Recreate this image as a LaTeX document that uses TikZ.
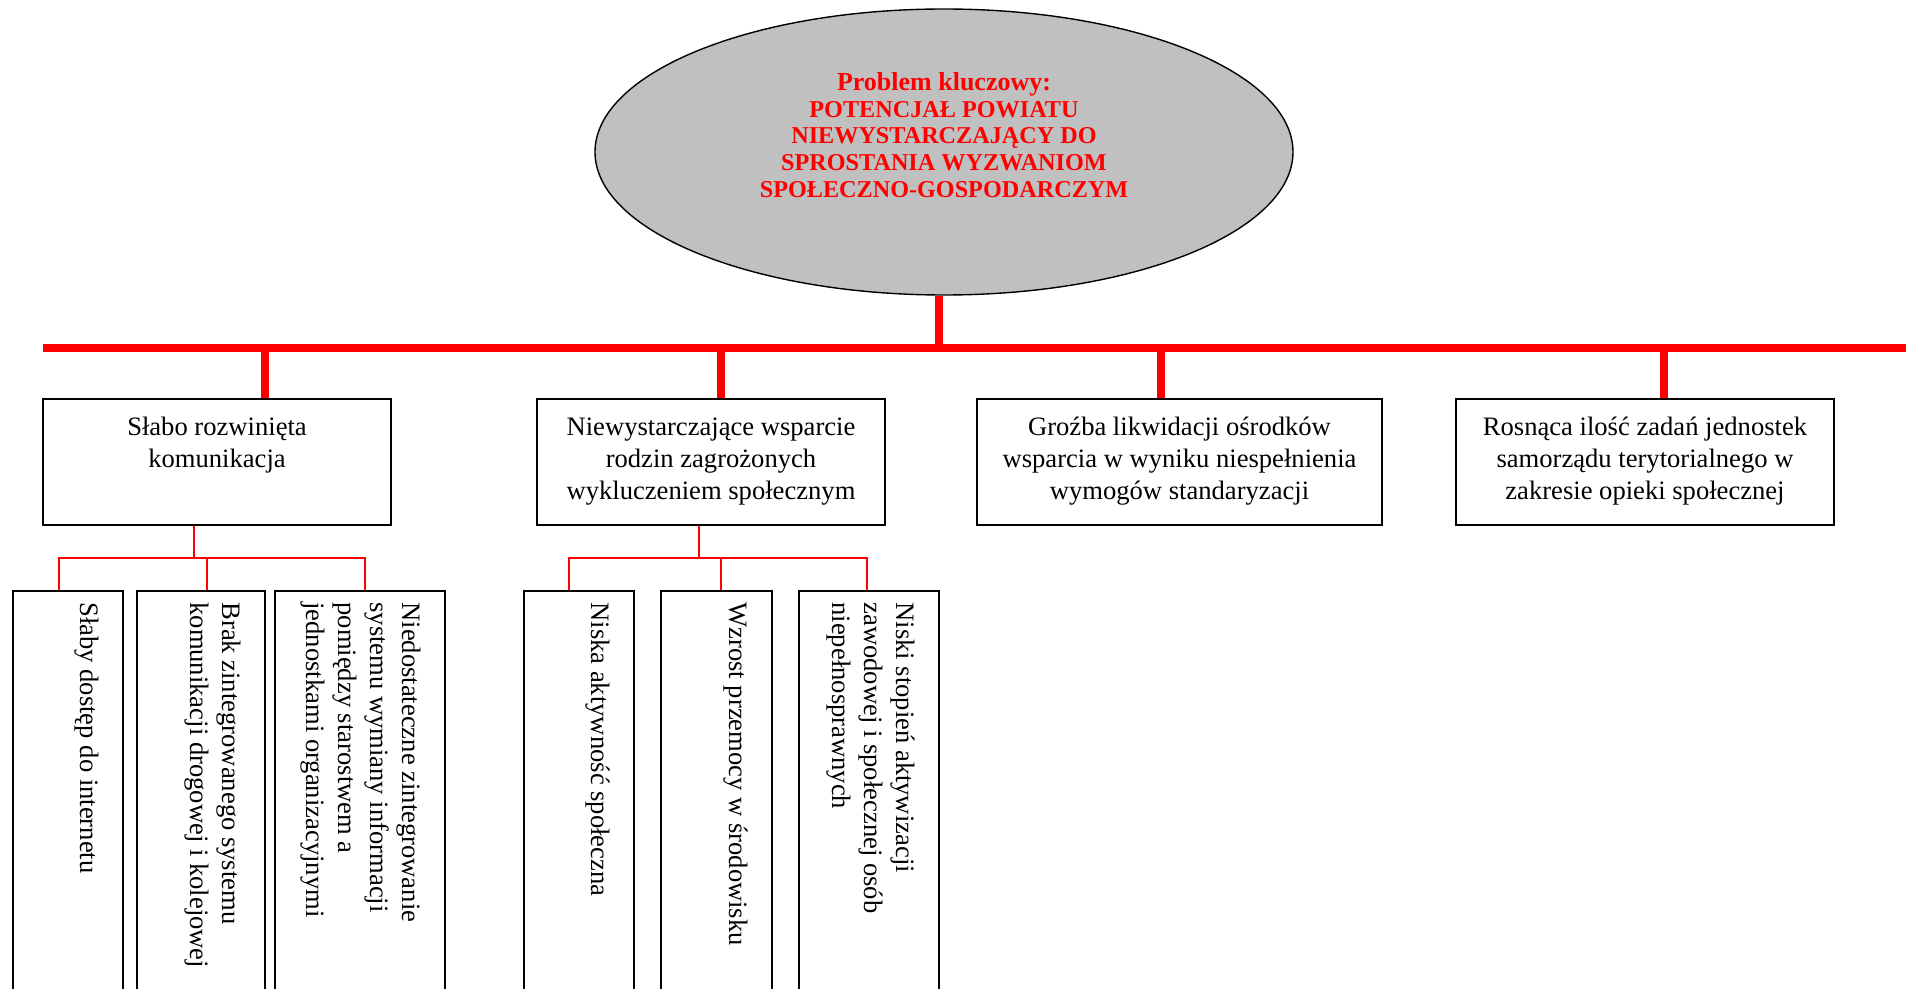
\documentclass[tikz,border=0pt]{standalone}
\usepackage{fontspec}
\setmainfont{Liberation Serif}
\usetikzlibrary{shapes.geometric}
\definecolor{ellgray}{HTML}{C0C0C0}
\definecolor{pred}{HTML}{FF0000}
\tikzset{
  bigbar/.style={draw=pred, line width=3.8pt},
  thinlink/.style={draw=pred, line width=0.7pt},
  mainbox/.style={draw=black, line width=0.9pt, minimum height=63pt, inner sep=0pt},
  subbox/.style={draw=black, line width=0.9pt, anchor=north, minimum height=210pt, inner sep=0pt},
  boxtext/.style={anchor=north, align=center, inner sep=0pt, font=\fontsize{13.3}{16}\selectfont},
  vtext/.style={rotate=-90, anchor=north west, align=left, inner sep=0pt, font=\fontsize{13.3}{16}\selectfont},
}
\begin{document}
\begin{tikzpicture}[x=0.5pt,y=-0.5pt]
\clip (0,0) rectangle (1910,989);
% key problem
\node[ellipse, draw=black, line width=0.7pt, fill=ellgray, minimum width=349pt, minimum height=143pt, inner sep=0pt] (ell) at (944,152) {};
\node[align=center, inner sep=0pt, text=pred, font=\bfseries\fontsize{12.1}{13.3}\selectfont] (kt) at (944,135)
  {{\fontsize{13}{13.3}\selectfont Problem kluczowy:}\\POTENCJAŁ POWIATU\\NIEWYSTARCZAJĄCY DO\\SPROSTANIA WYZWANIOM\\SPOŁECZNO-GOSPODARCZYM};
% main boxes
\node[mainbox, minimum width=174pt] (b1) at (217,462) {};
\node[mainbox, minimum width=174pt] (b2) at (711,462) {};
\node[mainbox, minimum width=202.5pt] (b3) at (1179.5,462) {};
\node[mainbox, minimum width=189pt] (b4) at (1645,462) {};
\node[boxtext] (b1t) at ([yshift=-9.5pt]b1.north) {Słabo rozwinięta\\komunikacja};
\node[boxtext] (b2t) at ([yshift=-9.5pt]b2.north) {Niewystarczające wsparcie\\rodzin zagrożonych\\wykluczeniem społecznym};
\node[boxtext] (b3t) at ([yshift=-9.5pt]b3.north) {Groźba likwidacji ośrodków\\wsparcia w wyniku niespełnienia\\wymogów standaryzacji};
\node[boxtext] (b4t) at ([yshift=-9.5pt]b4.north) {Rosnąca ilość zadań jednostek\\samorządu terytorialnego w\\zakresie opieki społecznej};
% sub boxes
\node[subbox, minimum width=55pt] (s1) at (68,590) {};
\node[subbox, minimum width=64pt] (s2) at (201,590) {};
\node[subbox, minimum width=85pt] (s3) at (360,590) {};
\node[subbox, minimum width=55pt] (s4) at (579,590) {};
\node[subbox, minimum width=55.5pt] (s5) at (716.5,590) {};
\node[subbox, minimum width=70pt] (s6) at (869,590) {};
\node[vtext] (s1t) at ([xshift=-12.5pt,yshift=-6pt]s1.north east) {Słaby dostęp do internetu};
\node[vtext] (s2t) at ([xshift=-12.5pt,yshift=-6pt]s2.north east) {Brak zintegrowanego systemu\\komunikacji drogowej i kolejowej};
\node[vtext] (s3t) at ([xshift=-12.5pt,yshift=-6pt]s3.north east) {Niedostateczne zintegrowanie\\systemu wymiany informacji\\pomiędzy starostwem a\\jednostkami organizacyjnymi};
\node[vtext] (s4t) at ([xshift=-12.5pt,yshift=-6pt]s4.north east) {Niska aktywność społeczna};
\node[vtext] (s5t) at ([xshift=-12.5pt,yshift=-6pt]s5.north east) {Wzrost przemocy w środowisku};
\node[vtext] (s6t) at ([xshift=-12.5pt,yshift=-6pt]s6.north east) {Niski stopień aktywizacji\\zawodowej i społecznej osób\\niepełnosprawnych};
% main bar
\coordinate (barL) at (43,348);
\coordinate (barR) at (1906,348);
\coordinate (st) at (939,348);
\coordinate (d1) at (265,348);
\coordinate (d2) at (721,348);
\coordinate (d3) at (1161,348);
\coordinate (d4) at (1664,348);
\draw[bigbar] (barL) -- (barR);
\draw[bigbar] (st |- ell.south) -- (st);
\draw[bigbar] (d1) -- (d1 |- b1.north);
\draw[bigbar] (d2) -- (d2 |- b2.north);
\draw[bigbar] (d3) -- (d3 |- b3.north);
\draw[bigbar] (d4) -- (d4 |- b4.north);
% group 1 links
\coordinate (j1) at (194,558);
\coordinate (h1L) at (59,558);
\coordinate (h1M) at (207,558);
\coordinate (h1R) at (365,558);
\draw[thinlink] (j1 |- b1.south) -- (j1);
\draw[thinlink] (h1L |- s1.north) -- (h1L) -- (h1R) -- (h1R |- s3.north);
\draw[thinlink] (h1M) -- (h1M |- s2.north);
% group 2 links
\coordinate (j2) at (699,558);
\coordinate (h2L) at (569,558);
\coordinate (h2M) at (721,558);
\coordinate (h2R) at (867,558);
\draw[thinlink] (j2 |- b2.south) -- (j2);
\draw[thinlink] (h2L |- s4.north) -- (h2L) -- (h2R) -- (h2R |- s6.north);
\draw[thinlink] (h2M) -- (h2M |- s5.north);
\end{tikzpicture}
\end{document}
